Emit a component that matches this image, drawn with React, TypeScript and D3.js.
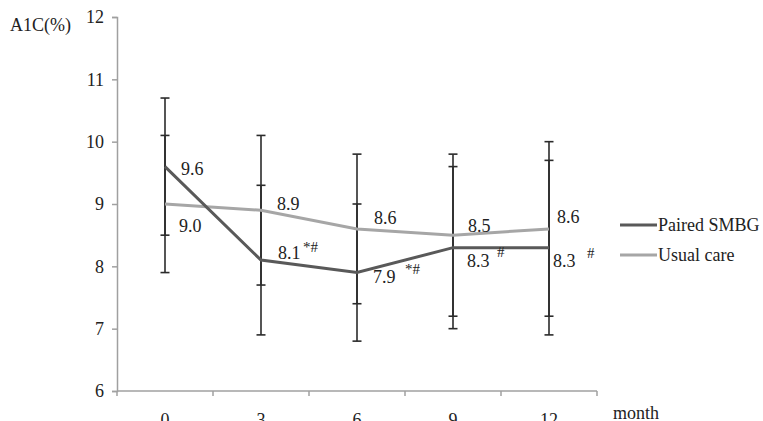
import React, { useEffect, useRef } from "react";
import * as d3 from "d3";

const MONTHS = ["0", "3", "6", "9", "12"];
const PAIRED = [9.6, 8.1, 7.9, 8.3, 8.3];
const PAIRED_SD = [1.1, 1.2, 1.1, 1.3, 1.4];
const USUAL = [9.0, 8.9, 8.6, 8.5, 8.6];
const USUAL_SD = [1.1, 1.2, 1.2, 1.3, 1.4];
const PAIRED_MARKS = ["", "*#", "*#", "#", "#"];
const Y_TICKS = [6, 7, 8, 9, 10, 11, 12];

// label offsets from the point, in px
const PAIRED_LABEL_POS = [[16, 8], [17, -1], [16, 10], [14, 19], [4, 19]];
const PAIRED_MARK_POS = [[0, 0], [42, -8], [48, 1], [44, 9], [38, 10]];
const USUAL_LABEL_POS = [[14, 28], [16, 0], [17, -5], [15, -3], [8, -6]];

const WIDTH = 763;
const HEIGHT = 421;
const FONT = "'Liberation Serif', 'Times New Roman', serif";
const TEXT = "#222";
const AXIS = "#a0a0a0";
const DARK = "#595959";
const LIGHT = "#a6a6a6";

export default function App() {
  const ref = useRef<SVGSVGElement>(null);

  useEffect(() => {
    const svg = d3.select(ref.current);
    svg.selectAll("*").remove();

    const x = d3.scaleBand().domain(MONTHS).range([117, 597]);
    const y = d3.scaleLinear().domain([6, 12]).range([391, 17]);
    const cx = (m: string) => (x(m) as number) + x.bandwidth() / 2;

    // y axis
    const yAxis = svg
      .append("g")
      .attr("transform", "translate(117,0)")
      .call(d3.axisLeft(y).tickValues(Y_TICKS).tickSize(5).tickFormat(d3.format("d")));
    yAxis.select(".domain").attr("stroke", AXIS).attr("stroke-width", 1.5);
    yAxis.selectAll(".tick line").attr("stroke", AXIS).attr("stroke-width", 1.5);
    yAxis
      .selectAll(".tick text")
      .attr("x", -13)
      .attr("fill", TEXT)
      .style("font-family", FONT)
      .style("font-size", "18px");

    // x axis, ticks between categories
    const xg = svg.append("g").attr("transform", "translate(0,391)");
    xg.append("line")
      .attr("x1", 117)
      .attr("x2", 597)
      .attr("stroke", AXIS)
      .attr("stroke-width", 1.5);
    const bounds = MONTHS.map((m) => x(m) as number).concat([597]);
    xg.selectAll("line.tk")
      .data(bounds)
      .enter()
      .append("line")
      .attr("class", "tk")
      .attr("x1", (d) => d)
      .attr("x2", (d) => d)
      .attr("y1", 0)
      .attr("y2", 5)
      .attr("stroke", AXIS)
      .attr("stroke-width", 1.5);
    xg.selectAll("text")
      .data(MONTHS)
      .enter()
      .append("text")
      .attr("x", (d) => cx(d))
      .attr("y", 35)
      .attr("text-anchor", "middle")
      .attr("fill", TEXT)
      .style("font-family", FONT)
      .style("font-size", "18px")
      .text((d) => d);

    // error bars
    const bars = [
      ...MONTHS.map((m, i) => ({ m, v: PAIRED[i], sd: PAIRED_SD[i] })),
      ...MONTHS.map((m, i) => ({ m, v: USUAL[i], sd: USUAL_SD[i] })),
    ];
    const eb = svg.append("g").attr("stroke", "#2b2b2b").attr("stroke-width", 1.6);
    bars.forEach((b) => {
      const px = cx(b.m);
      eb.append("line")
        .attr("x1", px)
        .attr("x2", px)
        .attr("y1", y(b.v - b.sd))
        .attr("y2", y(b.v + b.sd));
      [b.v - b.sd, b.v + b.sd].forEach((e) => {
        eb.append("line")
          .attr("x1", px - 4.5)
          .attr("x2", px + 4.5)
          .attr("y1", y(e))
          .attr("y2", y(e));
      });
    });

    // lines
    const line = d3
      .line<number>()
      .x((_, i) => cx(MONTHS[i]))
      .y((d) => y(d));
    svg.append("path")
      .attr("d", line(USUAL))
      .attr("fill", "none")
      .attr("stroke", LIGHT)
      .attr("stroke-width", 3);
    svg.append("path")
      .attr("d", line(PAIRED))
      .attr("fill", "none")
      .attr("stroke", DARK)
      .attr("stroke-width", 3);

    // value labels
    const lbl = svg
      .append("g")
      .attr("fill", TEXT)
      .style("font-family", FONT)
      .style("font-size", "18px");
    PAIRED.forEach((v, i) => {
      lbl.append("text")
        .attr("x", cx(MONTHS[i]) + PAIRED_LABEL_POS[i][0])
        .attr("y", y(v) + PAIRED_LABEL_POS[i][1])
        .text(v.toFixed(1));
      if (PAIRED_MARKS[i]) {
        lbl.append("text")
          .attr("x", cx(MONTHS[i]) + PAIRED_MARK_POS[i][0])
          .attr("y", y(v) + PAIRED_MARK_POS[i][1])
          .style("font-size", "15px")
          .text(PAIRED_MARKS[i]);
      }
    });
    USUAL.forEach((v, i) => {
      lbl.append("text")
        .attr("x", cx(MONTHS[i]) + USUAL_LABEL_POS[i][0])
        .attr("y", y(v) + USUAL_LABEL_POS[i][1])
        .text(v.toFixed(1));
    });

    // axis titles
    svg.append("text")
      .attr("x", 10)
      .attr("y", 31)
      .attr("fill", TEXT)
      .style("font-family", FONT)
      .style("font-size", "18px")
      .text("A1C(%)");
    svg.append("text")
      .attr("x", 613)
      .attr("y", 419)
      .attr("fill", TEXT)
      .style("font-family", FONT)
      .style("font-size", "18px")
      .text("month");

    // legend
    const legend = [
      { name: "Paired SMBG", color: DARK, y: 225 },
      { name: "Usual care", color: LIGHT, y: 255 },
    ];
    legend.forEach((l) => {
      svg.append("line")
        .attr("x1", 620)
        .attr("x2", 657)
        .attr("y1", l.y)
        .attr("y2", l.y)
        .attr("stroke", l.color)
        .attr("stroke-width", 3);
      svg.append("text")
        .attr("x", 658)
        .attr("y", l.y + 6)
        .attr("fill", TEXT)
        .style("font-family", FONT)
        .style("font-size", "18px")
        .text(l.name);
    });
  }, []);

  return (
    <svg
      ref={ref}
      width={WIDTH}
      height={HEIGHT}
      style={{ position: "absolute", left: 0, top: 0, background: "#fff" }}
    ></svg>
  );
}
